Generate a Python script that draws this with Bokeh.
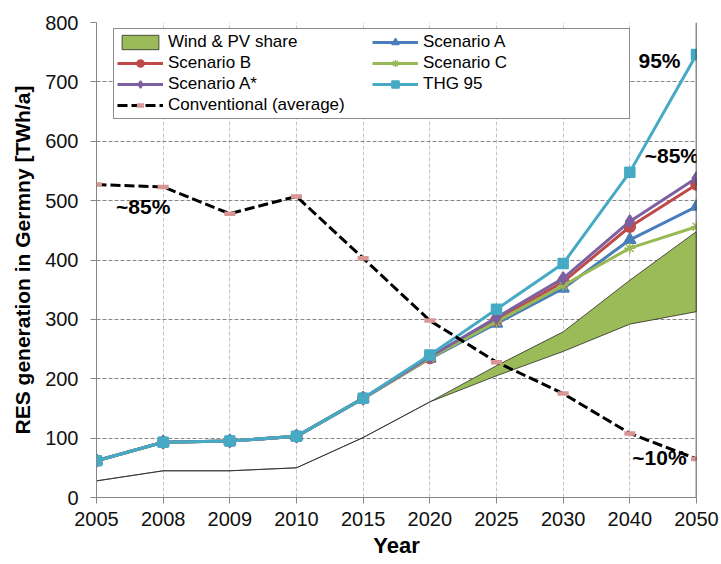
from bokeh.plotting import figure
from bokeh.models import Range1d, FixedTicker, Span, Legend, LegendItem
from bokeh.core.properties import value
from bokeh.embed import file_html
from bokeh.resources import INLINE

# Years on the horizontal axis (evenly spaced categories)
years = ["2005", "2008", "2009", "2010", "2015", "2020", "2025", "2030", "2040", "2050"]

# Wind & PV share band, TWh/a (lower and upper bound)
wind_pv_low = [28, 45, 45, 50, 101, 161, 205, 246, 292, 313]
wind_pv_high = [28, 45, 45, 50, 101, 161, 222, 279, 366, 448]

# RES generation scenarios, TWh/a
scenario_a = [62, 93, 95, 103, 167, 234, 293, 352, 434, 490]
scenario_b = [62, 93, 95, 103, 167, 235, 299, 363, 456, 527]
scenario_c = [62, 93, 95, 103, 167, 235, 296, 357, 420, 456]
scenario_a_star = [62, 93, 95, 103, 167, 237, 303, 369, 465, 538]
thg_95 = [62, 93, 95, 103, 167, 240, 317, 394, 548, 746]

# Conventional generation (average), TWh/a
conventional = [527, 523, 478, 507, 403, 298, 228, 175, 108, 65]

y_ticks = list(range(0, 801, 100))

FONT = "Liberation Sans"
idx = list(range(len(years)))

p = figure(
    width=721, height=564,
    x_range=Range1d(0, len(years) - 1), y_range=Range1d(0, 800),
    output_backend="svg", toolbar_location=None,
    min_border_left=96, min_border_right=25, min_border_top=22, min_border_bottom=67,
)
p.outline_line_color = None
p.background_fill_color = "white"

# grid
p.ygrid.grid_line_color = "#868686"
p.ygrid.grid_line_dash = "4 2"
p.ygrid.grid_line_width = 1
p.xgrid.grid_line_color = "#c4c4c4"
p.xgrid.grid_line_dash = "4 2"
p.xgrid.grid_line_width = 1

# axes
p.xaxis.ticker = FixedTicker(ticks=idx)
p.xaxis.major_label_overrides = {i: y for i, y in enumerate(years)}
p.yaxis.ticker = FixedTicker(ticks=y_ticks)
for ax in (p.xaxis[0], p.yaxis[0]):
    ax.axis_line_color = "#868686"
    ax.major_tick_line_color = "#868686"
    ax.major_tick_out = 6
    ax.major_tick_in = 0
    ax.minor_tick_out = 0
    ax.minor_tick_in = 0
    ax.major_label_text_font = FONT
    ax.major_label_text_font_size = "20px"
    ax.major_label_text_color = "#111111"
    ax.axis_label_text_font = FONT
    ax.axis_label_text_font_style = "bold"
    ax.axis_label_text_color = "#000000"
p.xaxis.major_label_standoff = 8
p.yaxis.major_label_standoff = 12
p.xaxis.axis_label = "Year"
p.xaxis.axis_label_text_font_size = "22px"
p.xaxis.axis_label_standoff = 4
p.yaxis.axis_label = "RES generation in Germny [TWh/a]"
p.yaxis.axis_label_text_font_size = "21px"
p.yaxis.axis_label_standoff = 8

# Wind & PV share band
band_x = idx + idx[::-1]
band_y = wind_pv_high + wind_pv_low[::-1]
r_band = p.patch(band_x, band_y, fill_color="#9bbb59", line_color="#2b2b2b", line_width=0.8)
items = [LegendItem(label="Wind & PV share", renderers=[r_band])]


def series(vals, color, marker, size, label, line_width=3):
    r1 = p.line(idx, vals, line_color=color, line_width=line_width)
    r2 = p.scatter(idx, vals, marker=marker, size=size, fill_color=color,
                   line_color=color, line_width=1.5)
    return LegendItem(label=label, renderers=[r1, r2])


items.append(series(scenario_a, "#4a7ebb", "triangle", 12, "Scenario A"))
items.append(series(scenario_b, "#be4b48", "circle", 11, "Scenario B"))
items.append(series(scenario_c, "#98b954", "asterisk", 11, "Scenario C"))
items.append(series(scenario_a_star, "#7d60a0", "diamond", 13, "Scenario A*"))
items.append(series(thg_95, "#46aac5", "square", 10, "THG 95"))

# conventional generation: dashed black line with short pink dash markers
r_conv_line = p.line(idx, conventional, line_color="black", line_width=3, line_dash="10 4")
r_conv_mark = p.scatter(idx, conventional, marker="dash", size=11,
                        line_color="#d99694", line_width=4.5)
items.append(LegendItem(label="Conventional (average)", renderers=[r_conv_line, r_conv_mark]))

# right frame edge
p.add_layout(Span(location=len(years) - 1, dimension="height",
                  line_color="#1a1a1a", line_width=1.5))

# share annotations, anchored to data points
last = len(years) - 1
notes_x = [last, last - 1, 1, last]
notes_y = [thg_95[last], thg_95[last - 1], conventional[1], conventional[last]]
notes_text = ["95%", "~85%", "~85%", "~10%"]
notes_dx = [-37, 42, -20, -37]
notes_dy = [6, -17, 20, -1]
p.text(x=notes_x, y=notes_y, text=notes_text, x_offset=notes_dx, y_offset=notes_dy,
       text_font=value(FONT), text_font_size="21px", text_font_style="bold",
       text_color="black", text_align="center", text_baseline="middle")

legend = Legend(
    items=items, orientation="horizontal", ncols=2,
    location=(17, 378),
    label_text_font=FONT, label_text_font_size="17px", label_text_color="#000000",
    glyph_width=46, glyph_height=18, label_height=18, label_width=203,
    label_standoff=5, spacing=1, padding=3, margin=0,
    border_line_color="#1a1a1a", border_line_width=1,
    background_fill_color="white", background_fill_alpha=1,
)
p.add_layout(legend)

open("out.html", "w").write(file_html(p, INLINE))
